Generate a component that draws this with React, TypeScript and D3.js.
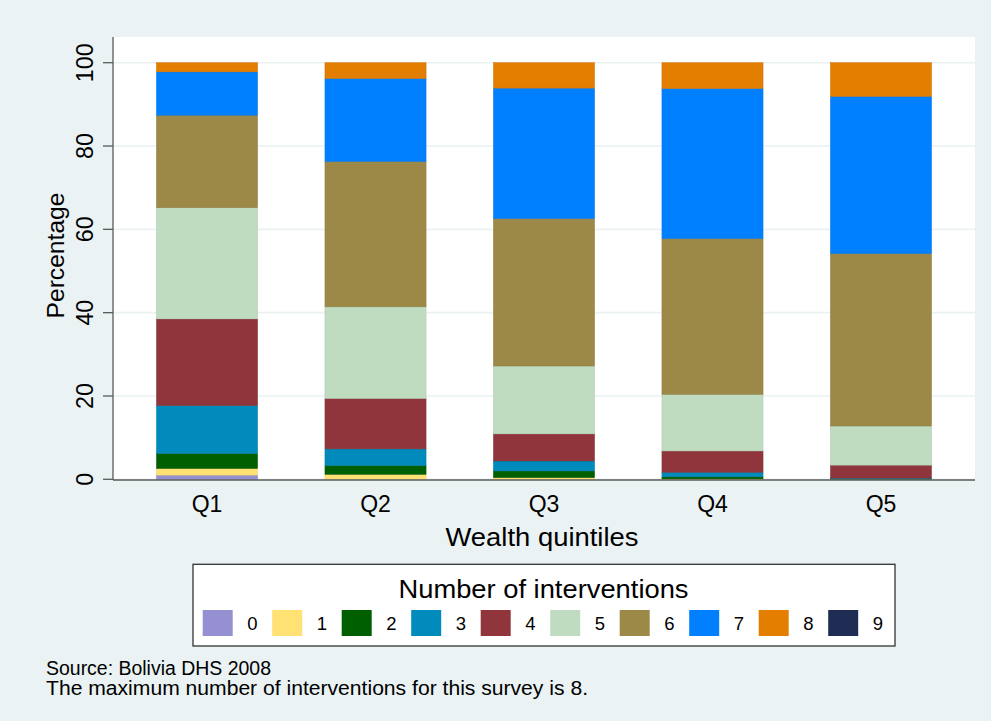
import React from "react";
import * as d3 from "d3";

const quintiles = ["Q1", "Q2", "Q3", "Q4", "Q5"];
const interventionKeys = ["0", "1", "2", "3", "4", "5", "6", "7", "8", "9"];
const n0 = [1.0, 0, 0, 0, 0];
const n1 = [1.6, 1.2, 0.4, 0.1, 0];
const n2 = [3.6, 2.1, 1.6, 0.5, 0.2];
const n3 = [11.5, 4.0, 2.4, 1.1, 0.1];
const n4 = [20.8, 12.1, 6.5, 5.1, 3.1];
const n5 = [26.7, 22.0, 16.3, 13.6, 9.4];
const n6 = [22.2, 34.9, 35.4, 37.4, 41.4];
const n7 = [10.4, 19.9, 31.3, 36.0, 37.7];
const n8 = [2.2, 3.8, 6.1, 6.2, 8.1];
const n9 = [0, 0, 0, 0, 0];
const yTicks = [0, 20, 40, 60, 80, 100];
const colors = ["#9490D2", "#FFE174", "#005F00", "#008BBC", "#90353B", "#C0DCC0", "#9C8847", "#0080FF", "#E37E00", "#1F2D54"];

const series = [n0, n1, n2, n3, n4, n5, n6, n7, n8, n9];

const W = 991;
const H = 721;
const FONT = "'Liberation Sans', Arial, Helvetica, sans-serif";

export default function App() {
  const plotL = 113, plotR = 975, plotT = 37, plotB = 480;
  const x = d3.scaleBand<string>().domain(quintiles).range([plotL, plotR]).paddingInner(0.4).paddingOuter(0.258);
  const y = d3.scaleLinear().domain([0, 100]).range([479.3, 62.7]);

  const table = quintiles.map((q, i) => {
    const row: any = { q };
    interventionKeys.forEach((k, j) => (row[k] = series[j][i]));
    return row;
  });
  const stacked = d3.stack<any>().keys(interventionKeys)(table);

  const legendX0 = 202.7;
  const legendStep = 69.5;

  return (
    <>
      <style>{`body{margin:0;}`}</style>
      <svg width={W} height={H} style={{ display: "block", fontFamily: FONT }}>
        <rect x={0} y={0} width={W} height={H} fill="#EAF2F3" />
        <rect x={plotL} y={plotT} width={plotR - plotL} height={plotB - plotT} fill="#FFFFFF" />
        {yTicks.map((t) => (
          <line key={"g" + t} x1={plotL} x2={plotR} y1={y(t)} y2={y(t)} stroke="#EAF2F3" strokeWidth={1.6} />
        ))}
        {stacked.map((s, j) => (
          <g key={s.key} fill={colors[j]}>
            {s.map((d, i) => {
              const h = y(d[0]) - y(d[1]);
              if (h <= 0) return null;
              return (
                <rect
                  key={i}
                  x={x(quintiles[i])}
                  y={y(d[1])}
                  width={x.bandwidth()}
                  height={h}
                  stroke={d3.color(colors[j])!.darker(0.3).toString()}
                  strokeWidth={0.5}
                />
              );
            })}
          </g>
        ))}
        {/* axes */}
        <line x1={plotL} x2={plotL} y1={plotT} y2={plotB} stroke="#5A5A5A" strokeWidth={1.3} />
        <line x1={plotL} x2={plotR} y1={plotB} y2={plotB} stroke="#5A5A5A" strokeWidth={1.3} />
        {yTicks.map((t) => (
          <g key={"t" + t}>
            <line x1={plotL - 10} x2={plotL} y1={y(t)} y2={y(t)} stroke="#5A5A5A" strokeWidth={1.3} />
            <text
              transform={`translate(93.3,${y(t)}) rotate(-90)`}
              textAnchor="middle"
              fontSize={23.3}
              fill="#000"
            >
              {t}
            </text>
          </g>
        ))}
        <text
          transform={`translate(63.5,255.5) rotate(-90)`}
          textAnchor="middle"
          fontSize={24}
          textLength={126}
          lengthAdjust="spacingAndGlyphs"
          fill="#000"
        >
          Percentage
        </text>
        {quintiles.map((q) => (
          <text key={q} x={x(q)! + x.bandwidth() / 2} y={512.3} textAnchor="middle" fontSize={23} fill="#000">
            {q}
          </text>
        ))}
        <text x={542} y={545.7} textAnchor="middle" fontSize={26} textLength={193} lengthAdjust="spacingAndGlyphs" fill="#000">
          Wealth quintiles
        </text>
        {/* legend */}
        <rect x={193} y={564.3} width={702} height={81.7} fill="#FFFFFF" stroke="#333333" strokeWidth={1.3} />
        <text x={543.5} y={597.7} textAnchor="middle" fontSize={26} textLength={290} lengthAdjust="spacingAndGlyphs" fill="#000">
          Number of interventions
        </text>
        {interventionKeys.map((k, i) => (
          <g key={"l" + k}>
            <rect x={legendX0 + i * legendStep} y={610} width={30} height={26} fill={colors[i]} />
            <text x={legendX0 + i * legendStep + 49.6} y={630} textAnchor="middle" fontSize={18.5} fill="#000">
              {k}
            </text>
          </g>
        ))}
        <text x={46} y={675} fontSize={19.5} textLength={225} lengthAdjust="spacingAndGlyphs" fill="#000">
          Source: Bolivia DHS 2008
        </text>
        <text x={46} y={695} fontSize={20} textLength={542} lengthAdjust="spacingAndGlyphs" fill="#000">
          The maximum number of interventions for this survey is 8.
        </text>
      </svg>
    </>
  );
}
